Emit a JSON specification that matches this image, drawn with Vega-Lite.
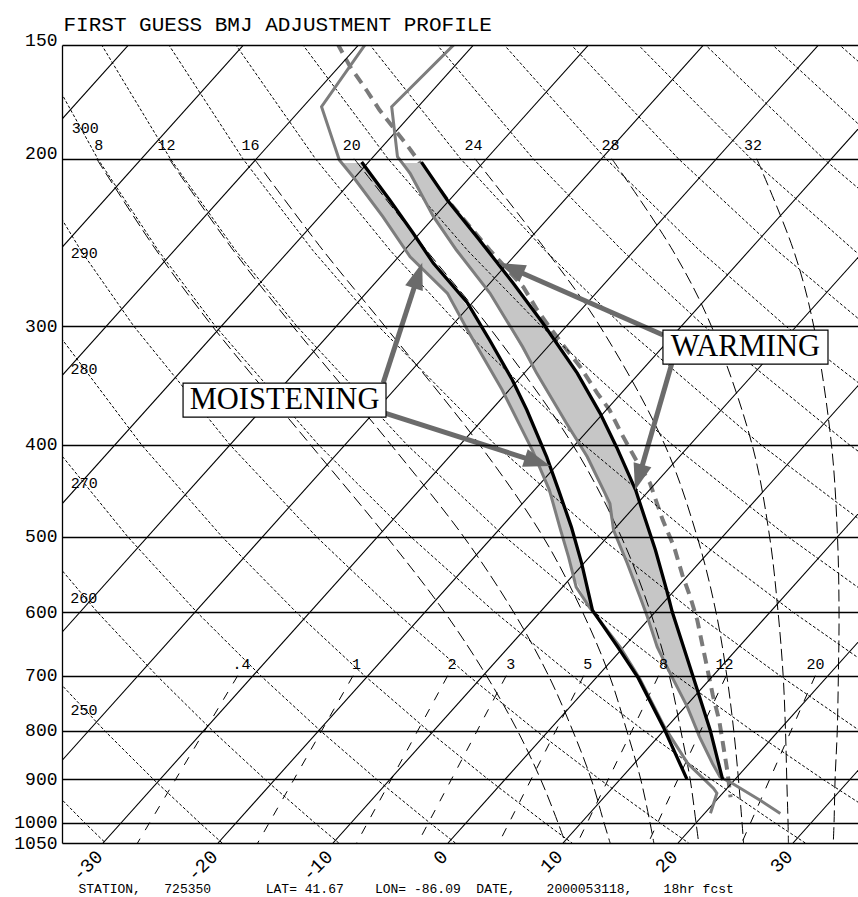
{
"$schema":"https://vega.github.io/schema/vega-lite/v6.json",
"width":796,"height":798,"autosize":"none",
"padding":{"left":62,"top":45,"right":0,"bottom":54},
"background":"white",
"config":{"view":{"stroke":null}},
"datasets":{
"iso":[{"T":-90,"p":1050},{"T":-90,"p":150},{"T":-80,"p":1050},{"T":-80,"p":150},{"T":-70,"p":1050},{"T":-70,"p":150},{"T":-60,"p":1050},{"T":-60,"p":150},{"T":-50,"p":1050},{"T":-50,"p":150},{"T":-40,"p":1050},{"T":-40,"p":150},{"T":-30,"p":1050},{"T":-30,"p":150},{"T":-20,"p":1050},{"T":-20,"p":150},{"T":-10,"p":1050},{"T":-10,"p":150},{"T":0,"p":1050},{"T":0,"p":150},{"T":10,"p":1050},{"T":10,"p":150},{"T":20,"p":1050},{"T":20,"p":150},{"T":30,"p":1050},{"T":30,"p":150}],
"dry":[
{"th":240,"p":1050,"T":-29.78},{"th":240,"p":1000,"T":-33.15},{"th":240,"p":900,"T":-40.27},
{"th":250,"p":1050,"T":-19.64},{"th":250,"p":1000,"T":-23.15},{"th":250,"p":900,"T":-30.57},{"th":250,"p":800,"T":-38.6},{"th":250,"p":700,"T":-47.39},
{"th":260,"p":1050,"T":-9.5},{"th":260,"p":1000,"T":-13.15},{"th":260,"p":900,"T":-20.87},{"th":260,"p":800,"T":-29.22},{"th":260,"p":700,"T":-38.36},{"th":260,"p":600,"T":-48.49},{"th":260,"p":500,"T":-59.91},
{"th":270,"p":1050,"T":0.64},{"th":270,"p":1000,"T":-3.15},{"th":270,"p":900,"T":-11.16},{"th":270,"p":800,"T":-19.84},{"th":270,"p":700,"T":-29.33},{"th":270,"p":600,"T":-39.85},{"th":270,"p":500,"T":-51.71},{"th":270,"p":400,"T":-65.4},
{"th":280,"p":1050,"T":10.78},{"th":280,"p":1000,"T":6.85},{"th":280,"p":900,"T":-1.46},{"th":280,"p":800,"T":-10.46},{"th":280,"p":700,"T":-20.3},{"th":280,"p":600,"T":-31.21},{"th":280,"p":500,"T":-43.51},{"th":280,"p":400,"T":-57.7},{"th":280,"p":300,"T":-74.72},
{"th":290,"p":1050,"T":20.92},{"th":290,"p":1000,"T":16.85},{"th":290,"p":900,"T":8.24},{"th":290,"p":800,"T":-1.08},{"th":290,"p":700,"T":-11.27},{"th":290,"p":600,"T":-22.57},{"th":290,"p":500,"T":-35.3},{"th":290,"p":400,"T":-50.01},{"th":290,"p":300,"T":-67.63},{"th":290,"p":250,"T":-78.07},{"th":290,"p":200,"T":-90.12},
{"th":300,"p":1050,"T":31.07},{"th":300,"p":1000,"T":26.85},{"th":300,"p":900,"T":17.95},{"th":300,"p":800,"T":8.3},{"th":300,"p":700,"T":-2.24},{"th":300,"p":600,"T":-13.93},{"th":300,"p":500,"T":-27.1},{"th":300,"p":400,"T":-42.31},{"th":300,"p":300,"T":-60.54},{"th":300,"p":250,"T":-71.34},{"th":300,"p":200,"T":-83.8},{"th":300,"p":150,"T":-98.78},
{"th":310,"p":1000,"T":36.85},{"th":310,"p":900,"T":27.65},{"th":310,"p":800,"T":17.69},{"th":310,"p":700,"T":6.79},{"th":310,"p":600,"T":-5.29},{"th":310,"p":500,"T":-18.9},{"th":310,"p":400,"T":-34.62},{"th":310,"p":300,"T":-53.46},{"th":310,"p":250,"T":-64.61},{"th":310,"p":200,"T":-77.49},{"th":310,"p":150,"T":-92.97},
{"th":320,"p":900,"T":37.35},{"th":320,"p":800,"T":27.07},{"th":320,"p":700,"T":15.82},{"th":320,"p":600,"T":3.35},{"th":320,"p":500,"T":-10.7},{"th":320,"p":400,"T":-26.93},{"th":320,"p":300,"T":-46.37},{"th":320,"p":250,"T":-57.89},{"th":320,"p":200,"T":-71.18},{"th":320,"p":150,"T":-87.15},
{"th":330,"p":700,"T":24.85},{"th":330,"p":600,"T":11.99},{"th":330,"p":500,"T":-2.5},{"th":330,"p":400,"T":-19.23},{"th":330,"p":300,"T":-39.28},{"th":330,"p":250,"T":-51.16},{"th":330,"p":200,"T":-64.87},{"th":330,"p":150,"T":-81.34},
{"th":340,"p":600,"T":20.63},{"th":340,"p":500,"T":5.7},{"th":340,"p":400,"T":-11.54},{"th":340,"p":300,"T":-32.2},{"th":340,"p":250,"T":-44.43},{"th":340,"p":200,"T":-58.56},{"th":340,"p":150,"T":-75.53},
{"th":350,"p":500,"T":13.91},{"th":350,"p":400,"T":-3.84},{"th":350,"p":300,"T":-25.11},{"th":350,"p":250,"T":-37.7},{"th":350,"p":200,"T":-52.25},{"th":350,"p":150,"T":-69.72},
{"th":360,"p":500,"T":22.11},{"th":360,"p":400,"T":3.85},{"th":360,"p":300,"T":-18.02},{"th":360,"p":250,"T":-30.98},{"th":360,"p":200,"T":-45.94},{"th":360,"p":150,"T":-63.9},
{"th":370,"p":400,"T":11.55},{"th":370,"p":300,"T":-10.93},{"th":370,"p":250,"T":-24.25},{"th":370,"p":200,"T":-39.62},{"th":370,"p":150,"T":-58.09},
{"th":380,"p":400,"T":19.24},{"th":380,"p":300,"T":-3.85},{"th":380,"p":250,"T":-17.52},{"th":380,"p":200,"T":-33.31},{"th":380,"p":150,"T":-52.28},
{"th":390,"p":300,"T":3.24},{"th":390,"p":250,"T":-10.8},{"th":390,"p":200,"T":-27.0},{"th":390,"p":150,"T":-46.47},
{"th":400,"p":250,"T":-4.07},{"th":400,"p":200,"T":-20.69},{"th":400,"p":150,"T":-40.65},
{"th":410,"p":200,"T":-14.38},{"th":410,"p":150,"T":-34.84},
{"th":420,"p":200,"T":-8.07},{"th":420,"p":150,"T":-29.03}],
"moist":[
{"tw":8,"p":1050,"T":10.2},{"tw":8,"p":1000,"T":8},{"tw":8,"p":900,"T":3.1},{"tw":8,"p":800,"T":-2.7},{"tw":8,"p":700,"T":-9.7},{"tw":8,"p":600,"T":-18.3},{"tw":8,"p":500,"T":-29.2},{"tw":8,"p":400,"T":-43.0},{"tw":8,"p":300,"T":-60.8},{"tw":8,"p":250,"T":-71.5},{"tw":8,"p":200,"T":-83.9},
{"tw":12,"p":1050,"T":14.1},{"tw":12,"p":1000,"T":12},{"tw":12,"p":900,"T":7.5},{"tw":12,"p":800,"T":2.1},{"tw":12,"p":700,"T":-4.3},{"tw":12,"p":600,"T":-12.3},{"tw":12,"p":500,"T":-22.5},{"tw":12,"p":400,"T":-36.0},{"tw":12,"p":300,"T":-53.8},{"tw":12,"p":250,"T":-64.8},{"tw":12,"p":200,"T":-77.6},
{"tw":16,"p":1050,"T":17.9},{"tw":16,"p":1000,"T":16},{"tw":16,"p":900,"T":11.8},{"tw":16,"p":800,"T":6.8},{"tw":16,"p":700,"T":1.0},{"tw":16,"p":600,"T":-6.3},{"tw":16,"p":500,"T":-15.6},{"tw":16,"p":400,"T":-28.3},{"tw":16,"p":300,"T":-45.8},{"tw":16,"p":250,"T":-57.0},{"tw":16,"p":200,"T":-70.2},
{"tw":20,"p":1050,"T":21.8},{"tw":20,"p":1000,"T":20},{"tw":20,"p":900,"T":16.1},{"tw":20,"p":800,"T":11.5},{"tw":20,"p":700,"T":6.2},{"tw":20,"p":600,"T":-0.4},{"tw":20,"p":500,"T":-8.8},{"tw":20,"p":400,"T":-20.2},{"tw":20,"p":300,"T":-36.8},{"tw":20,"p":250,"T":-48.0},{"tw":20,"p":200,"T":-61.5},
{"tw":24,"p":1050,"T":25.7},{"tw":24,"p":1000,"T":24},{"tw":24,"p":900,"T":20.3},{"tw":24,"p":800,"T":16.1},{"tw":24,"p":700,"T":11.2},{"tw":24,"p":600,"T":5.3},{"tw":24,"p":500,"T":-2.2},{"tw":24,"p":400,"T":-12.2},{"tw":24,"p":300,"T":-27.1},{"tw":24,"p":250,"T":-37.6},{"tw":24,"p":200,"T":-51.0},
{"tw":28,"p":1050,"T":29.6},{"tw":28,"p":1000,"T":28},{"tw":28,"p":900,"T":24.5},{"tw":28,"p":800,"T":20.6},{"tw":28,"p":700,"T":16.1},{"tw":28,"p":600,"T":10.7},{"tw":28,"p":500,"T":4.1},{"tw":28,"p":400,"T":-4.6},{"tw":28,"p":300,"T":-17.4},{"tw":28,"p":250,"T":-26.6},{"tw":28,"p":200,"T":-39.1},
{"tw":32,"p":1050,"T":33.5},{"tw":32,"p":1000,"T":32},{"tw":32,"p":900,"T":28.7},{"tw":32,"p":800,"T":25.1},{"tw":32,"p":700,"T":20.9},{"tw":32,"p":600,"T":16.0},{"tw":32,"p":500,"T":10.0},{"tw":32,"p":400,"T":2.3},{"tw":32,"p":300,"T":-8.5},{"tw":32,"p":250,"T":-16.1},{"tw":32,"p":200,"T":-26.5}],
"mixr":[{"w":0.4,"p":1050,"T":-27.0},{"w":0.4,"p":700,"T":-31.33},{"w":1,"p":1050,"T":-16.55},{"w":1,"p":700,"T":-21.3},{"w":2,"p":1050,"T":-7.95},{"w":2,"p":700,"T":-13.07},{"w":3,"p":1050,"T":-2.63},{"w":3,"p":700,"T":-7.98},{"w":5,"p":1050,"T":4.42},{"w":5,"p":700,"T":-1.24},{"w":8,"p":1050,"T":11.25},{"w":8,"p":700,"T":5.27},{"w":12,"p":1050,"T":17.41},{"w":12,"p":700,"T":11.15},{"w":20,"p":1050,"T":25.54},{"w":20,"p":700,"T":18.89}],
"snd":[
{"c":"fg_td","p":150.6,"T":-69.5},{"c":"fg_td","p":176.3,"T":-68.4},{"c":"fg_td","p":200.6,"T":-62.7},{"c":"fg_td","p":208.9,"T":-60.2},{"c":"fg_td","p":230.1,"T":-54.5},{"c":"fg_td","p":253.6,"T":-49.0},{"c":"fg_td","p":277.1,"T":-42.9},{"c":"fg_td","p":302.9,"T":-38.3},{"c":"fg_td","p":350.3,"T":-30.6},{"c":"fg_td","p":405.2,"T":-23.3},{"c":"fg_td","p":446.4,"T":-18.7},{"c":"fg_td","p":491.9,"T":-14.6},{"c":"fg_td","p":525.2,"T":-11.8},{"c":"fg_td","p":564.8,"T":-8.8},{"c":"fg_td","p":592.8,"T":-6.1},{"c":"fg_td","p":653.2,"T":-0.3},{"c":"fg_td","p":704.2,"T":3.8},{"c":"fg_td","p":793.0,"T":9.8},{"c":"fg_td","p":865.3,"T":14.6},{"c":"fg_td","p":919.4,"T":18.8},{"c":"fg_td","p":930.6,"T":19.5},{"c":"fg_td","p":962.7,"T":20.2},{"c":"fg_td","p":976.9,"T":20.5},
{"c":"fg_t","p":150.6,"T":-61.7},{"c":"fg_t","p":176.3,"T":-62.3},{"c":"fg_t","p":199.0,"T":-57.9},{"c":"fg_t","p":207.2,"T":-55.5},{"c":"fg_t","p":230.1,"T":-50.1},{"c":"fg_t","p":249.5,"T":-45.5},{"c":"fg_t","p":277.1,"T":-39.2},{"c":"fg_t","p":315.4,"T":-32.2},{"c":"fg_t","p":336.4,"T":-28.9},{"c":"fg_t","p":379.8,"T":-22.4},{"c":"fg_t","p":411.8,"T":-18.0},{"c":"fg_t","p":461.0,"T":-12.4},{"c":"fg_t","p":491.9,"T":-10.0},{"c":"fg_t","p":533.3,"T":-6.2},{"c":"fg_t","p":578.2,"T":-2.5},{"c":"fg_t","p":606.9,"T":-0.3},{"c":"fg_t","p":652.8,"T":2.9},{"c":"fg_t","p":696.2,"T":6.1},{"c":"fg_t","p":755.0,"T":10.2},{"c":"fg_t","p":811.9,"T":13.6},{"c":"fg_t","p":866.0,"T":16.8},{"c":"fg_t","p":894.6,"T":18.5},{"c":"fg_t","p":909.0,"T":20.1},{"c":"fg_t","p":946.5,"T":23.8},{"c":"fg_t","p":977.6,"T":26.6},
{"c":"adj_td","p":201.6,"T":-60.6},{"c":"adj_td","p":221.0,"T":-55.2},{"c":"adj_td","p":239.4,"T":-50.6},{"c":"adj_td","p":257.5,"T":-46.5},{"c":"adj_td","p":283.7,"T":-40.4},{"c":"adj_td","p":310.3,"T":-35.6},{"c":"adj_td","p":341.9,"T":-30.5},{"c":"adj_td","p":367.7,"T":-26.9},{"c":"adj_td","p":412.1,"T":-21.5},{"c":"adj_td","p":446.4,"T":-17.9},{"c":"adj_td","p":488.3,"T":-13.9},{"c":"adj_td","p":532.9,"T":-10.2},{"c":"adj_td","p":597.1,"T":-5.6},{"c":"adj_td","p":653.2,"T":-0.5},{"c":"adj_td","p":704.2,"T":3.7},{"c":"adj_td","p":793.0,"T":9.7},{"c":"adj_td","p":899.5,"T":15.8},
{"c":"adj_t","p":201.6,"T":-55.4},{"c":"adj_t","p":221.0,"T":-50.2},{"c":"adj_t","p":241.8,"T":-44.7},{"c":"adj_t","p":270.3,"T":-38.0},{"c":"adj_t","p":297.8,"T":-32.3},{"c":"adj_t","p":336.2,"T":-25.4},{"c":"adj_t","p":370.4,"T":-20.3},{"c":"adj_t","p":402.3,"T":-16.2},{"c":"adj_t","p":446.4,"T":-11.2},{"c":"adj_t","p":480.1,"T":-8.0},{"c":"adj_t","p":516.3,"T":-4.8},{"c":"adj_t","p":568.9,"T":-0.7},{"c":"adj_t","p":600.0,"T":1.5},{"c":"adj_t","p":702.5,"T":8.4},{"c":"adj_t","p":798.7,"T":14.0},{"c":"adj_t","p":901.8,"T":19.0},
{"c":"parcel","p":151.1,"T":-72.0},{"c":"parcel","p":160.1,"T":-69.0},{"c":"parcel","p":169.3,"T":-65.8},{"c":"parcel","p":177.7,"T":-63.1},{"c":"parcel","p":194.4,"T":-57.7},{"c":"parcel","p":221.0,"T":-50.2},{"c":"parcel","p":249.5,"T":-42.6},{"c":"parcel","p":272.9,"T":-36.8},{"c":"parcel","p":288.5,"T":-33.8},{"c":"parcel","p":300.7,"T":-31.4},{"c":"parcel","p":317.9,"T":-28.1},{"c":"parcel","p":331.3,"T":-25.6},{"c":"parcel","p":352.9,"T":-22.1},{"c":"parcel","p":367.7,"T":-19.7},{"c":"parcel","p":388.8,"T":-16.9},{"c":"parcel","p":415.1,"T":-13.5},{"c":"parcel","p":438.9,"T":-10.5},{"c":"parcel","p":480.1,"T":-6.5},{"c":"parcel","p":512.6,"T":-3.4},{"c":"parcel","p":548.6,"T":-0.5},{"c":"parcel","p":578.6,"T":1.9},{"c":"parcel","p":611.8,"T":4.3},{"c":"parcel","p":650.1,"T":6.7},{"c":"parcel","p":690.6,"T":9.1},{"c":"parcel","p":733.8,"T":11.5},{"c":"parcel","p":779.6,"T":14.0},{"c":"parcel","p":828.3,"T":16.3},{"c":"parcel","p":880.1,"T":18.6},{"c":"parcel","p":939.7,"T":21.0}],
"bands":[
{"b":"t","p":202,"T":-57.0,"T2":-55.3},{"b":"t","p":225,"T":-51.3,"T2":-49.1},{"b":"t","p":250,"T":-45.4,"T2":-42.8},{"b":"t","p":275,"T":-39.7,"T2":-37.0},{"b":"t","p":300,"T":-35.0,"T2":-31.9},{"b":"t","p":350,"T":-26.9,"T2":-23.3},{"b":"t","p":400,"T":-19.6,"T2":-16.5},{"b":"t","p":450,"T":-13.7,"T2":-10.9},{"b":"t","p":500,"T":-9.3,"T2":-6.2},{"b":"t","p":550,"T":-4.8,"T2":-2.2},{"b":"t","p":600,"T":-0.8,"T2":1.5},{"b":"t","p":650,"T":2.7,"T2":4.9},{"b":"t","p":700,"T":6.4,"T2":8.2},{"b":"t","p":750,"T":9.85,"T2":11.2},{"b":"t","p":800,"T":12.9,"T2":14.1},{"b":"t","p":850,"T":15.85,"T2":16.5},{"b":"t","p":900,"T":19.0,"T2":19.0},
{"b":"td","p":202,"T":-62.3,"T2":-60.6},{"b":"td","p":225,"T":-55.9,"T2":-54.2},{"b":"td","p":250,"T":-49.8,"T2":-48.2},{"b":"td","p":275,"T":-43.45,"T2":-42.4},{"b":"td","p":300,"T":-38.8,"T2":-37.5},{"b":"td","p":350,"T":-30.6,"T2":-29.4},{"b":"td","p":400,"T":-23.9,"T2":-23.0},{"b":"td","p":450,"T":-18.4,"T2":-17.6},{"b":"td","p":500,"T":-13.9,"T2":-12.9},{"b":"td","p":550,"T":-9.9,"T2":-9.0},{"b":"td","p":600,"T":-5.5,"T2":-5.4}],
"arrows":[{"T":-39.45,"p":260.5,"T0":-20.9,"p0":306.6},{"T":-11.85,"p":434.1,"T0":-18.1,"p0":325.8},{"T":-46.9,"p":264.7,"T0":-41.5,"p0":344.4},{"T":-21.8,"p":417.4,"T0":-39.0,"p0":370.4}],
"boxes":[{"label":"WARMING","T":-21.3,"p":302.9,"T2":-4.3,"p2":328.9},{"label":"MOISTENING","T":-58.9,"p":344.4,"T2":-38.6,"p2":374.0}],
"boxtext":[{"label":"WARMING","T":-12.8,"p":315.7},{"label":"MOISTENING","T":-48.75,"p":358.9}],
"dlab":[{"label":"300","T":-87.3,"p":185.6},{"label":"290","T":-77.6,"p":251.6},{"label":"280","T":-68.6,"p":332.9},{"label":"270","T":-59.7,"p":438.9},{"label":"260","T":-50.8,"p":579.3},{"label":"250","T":-42.0,"p":761.0}],
"mlab":[{"label":"8","T":-84.8,"p":193.4},{"label":"12","T":-78.9,"p":193.4},{"label":"16","T":-71.6,"p":193.4},{"label":"20","T":-62.8,"p":193.4},{"label":"24","T":-52.2,"p":193.4},{"label":"28","T":-40.3,"p":193.4},{"label":"32","T":-27.9,"p":193.4}],
"wlab":[{"label":".4","T":-31.9,"p":680.6},{"label":"1","T":-21.9,"p":680.6},{"label":"2","T":-13.6,"p":680.6},{"label":"3","T":-8.5,"p":680.6},{"label":"5","T":-1.8,"p":680.6},{"label":"8","T":4.8,"p":680.6},{"label":"12","T":10.1,"p":680.6},{"label":"20","T":18.0,"p":680.6}]
},
"encoding":{
"x":{"field":"xs","type":"quantitative","scale":{"domain":[-33.565,35.652],"nice":false,"zero":false},
 "axis":{"values":[-30,-20,-10,0,10,20,30],"labelExpr":"'' + datum.value","labelAngle":-45,"labelAlign":"right","labelBaseline":"middle","labelPadding":10,"labelOffset":-4,"labelFont":"Liberation Mono","labelFontSize":19,"labelFontWeight":"normal","labelColor":"black","labelFlush":false,"labelOverlap":false,"ticks":false,"domain":false,"grid":false,
 "title":"STATION,\u00a0\u00a0\u00a0725350\u00a0\u00a0\u00a0\u00a0\u00a0\u00a0\u00a0LAT=\u00a041.67\u00a0\u00a0\u00a0\u00a0LON=\u00a0-86.09\u00a0\u00a0DATE,\u00a0\u00a0\u00a0\u00a02000053118,\u00a0\u00a0\u00a0\u00a018hr\u00a0fcst","titleFont":"Liberation Mono","titleFontSize":13,"titleFontWeight":"normal","titleColor":"black","titleX":16,"titleY":49,"titleAlign":"left","titleAnchor":"start","titleBaseline":"alphabetic","titleAngle":0}},
"y":{"field":"p","type":"quantitative","scale":{"type":"log","domain":[151.8,1050],"reverse":true,"nice":false},
 "axis":{"values":[151.8,200,300,400,500,600,700,800,900,1000,1050],"labelExpr":"datum.value < 160 ? '150' : '' + datum.value","zindex":1,"grid":true,"gridColor":"black","gridWidth":1.3,"gridOpacity":1,"ticks":false,"domain":true,"domainColor":"black","domainWidth":1.3,"labelFont":"Liberation Mono","labelFontSize":18,"labelFontWeight":"normal","labelColor":"black","labelPadding":5,"labelBaseline":{"condition":{"test":"datum.value < 250","value":"alphabetic"},"value":"middle"},"labelFlush":false,"labelOverlap":false,"labelBound":false,
 "title":"FIRST GUESS BMJ ADJUSTMENT PROFILE","titleFont":"Liberation Mono","titleFontSize":21,"titleFontWeight":"normal","titleColor":"black","titleAngle":0,"titleX":1,"titleY":-15,"titleAlign":"left","titleAnchor":"start","titleBaseline":"alphabetic"}}
},
"layer":[
{"data":{"name":"snd"},"transform":[{"filter":"datum.c === 'parcel'"},{"calculate":"datum.T + 32.17*log(1050/datum.p)","as":"xs"}],"mark":{"type":"line","stroke":"#7a7a7a","strokeWidth":4,"strokeDash":[11,7],"clip":true},"encoding":{"order":{"field":"p","type":"quantitative"}}},
{"data":{"name":"bands"},"transform":[{"filter":"datum.b === 't'"},{"calculate":"datum.T + 32.17*log(1050/datum.p)","as":"xs"},{"calculate":"datum.T2 + 32.17*log(1050/datum.p)","as":"xs2"}],"mark":{"type":"area","orient":"horizontal","fill":"#c6c6c6","clip":true},"encoding":{"x2":{"field":"xs2"}}},
{"data":{"name":"bands"},"transform":[{"filter":"datum.b === 'td'"},{"calculate":"datum.T + 32.17*log(1050/datum.p)","as":"xs"},{"calculate":"datum.T2 + 32.17*log(1050/datum.p)","as":"xs2"}],"mark":{"type":"area","orient":"horizontal","fill":"#c6c6c6","clip":true},"encoding":{"x2":{"field":"xs2"}}},
{"data":{"name":"dry"},"transform":[{"calculate":"datum.T + 32.17*log(1050/datum.p)","as":"xs"}],"mark":{"type":"line","stroke":"black","strokeWidth":1,"strokeDash":[3,2],"clip":true},"encoding":{"detail":{"field":"th","type":"nominal"},"order":{"field":"p","type":"quantitative"}}},
{"data":{"name":"moist"},"transform":[{"calculate":"datum.T + 32.17*log(1050/datum.p)","as":"xs"}],"mark":{"type":"line","stroke":"black","strokeWidth":1,"strokeDash":[12,5],"interpolate":"catmull-rom","clip":true},"encoding":{"detail":{"field":"tw","type":"nominal"},"order":{"field":"p","type":"quantitative"}}},
{"data":{"name":"mixr"},"transform":[{"calculate":"datum.T + 32.17*log(1050/datum.p)","as":"xs"}],"mark":{"type":"line","stroke":"black","strokeWidth":1,"strokeDash":[9,10],"clip":true},"encoding":{"detail":{"field":"w","type":"nominal"},"order":{"field":"p","type":"quantitative"}}},
{"data":{"name":"iso"},"transform":[{"calculate":"datum.T + 32.17*log(1050/datum.p)","as":"xs"}],"mark":{"type":"line","stroke":"black","strokeWidth":1.1,"clip":true},"encoding":{"detail":{"field":"T","type":"nominal"},"order":{"field":"p","type":"quantitative"}}},
{"data":{"name":"snd"},"transform":[{"filter":"datum.c === 'fg_td' || datum.c === 'fg_t'"},{"calculate":"datum.T + 32.17*log(1050/datum.p)","as":"xs"}],"mark":{"type":"line","stroke":"#7d7d7d","strokeWidth":3,"clip":true},"encoding":{"detail":{"field":"c","type":"nominal"},"order":{"field":"p","type":"quantitative"}}},
{"data":{"name":"snd"},"transform":[{"filter":"datum.c === 'adj_td' || datum.c === 'adj_t'"},{"calculate":"datum.T + 32.17*log(1050/datum.p)","as":"xs"}],"mark":{"type":"line","stroke":"black","strokeWidth":3.3,"clip":true},"encoding":{"detail":{"field":"c","type":"nominal"},"order":{"field":"p","type":"quantitative"}}},
{"data":{"name":"arrows"},"transform":[{"calculate":"datum.T + 32.17*log(1050/datum.p)","as":"xs"},{"calculate":"datum.T0 + 32.17*log(1050/datum.p0)","as":"xs2"}],"mark":{"type":"rule","stroke":"#6b6b6b","strokeWidth":5,"strokeCap":"butt"},"encoding":{"x2":{"field":"xs2"},"y2":{"field":"p0"}}},
{"data":{"name":"arrows"},"transform":[{"calculate":"datum.T + 32.17*log(1050/datum.p)","as":"xs"},{"calculate":"datum.T0 + 32.17*log(1050/datum.p0)","as":"xs0"},{"calculate":"atan2(11.5*(datum.xs - datum.xs0), -412.5*log(datum.p/datum.p0)) * 180 / PI","as":"ang"}],"mark":{"type":"point","shape":"M0,-1.2L0.9,1.4L-0.9,1.4Z","size":420,"filled":true,"fill":"#6b6b6b","strokeWidth":0,"opacity":1},"encoding":{"angle":{"field":"ang","type":"quantitative","scale":null}}},
{"data":{"name":"boxes"},"transform":[{"calculate":"datum.T + 32.17*log(1050/datum.p)","as":"xs"},{"calculate":"datum.T2 + 32.17*log(1050/datum.p2)","as":"xs2"}],"mark":{"type":"rect","fill":"white","stroke":"black","strokeWidth":1.2},"encoding":{"x2":{"field":"xs2"},"y2":{"field":"p2"}}},
{"data":{"name":"boxtext"},"transform":[{"calculate":"datum.T + 32.17*log(1050/datum.p)","as":"xs"}],"mark":{"type":"text","font":"Liberation Serif","fontSize":30.5,"color":"black","align":"center","baseline":"middle"},"encoding":{"text":{"field":"label","type":"nominal"}}},
{"data":{"name":"dlab"},"transform":[{"calculate":"datum.T + 32.17*log(1050/datum.p)","as":"xs"}],"mark":{"type":"text","font":"Liberation Mono","fontSize":15,"color":"black","align":"center","baseline":"middle"},"encoding":{"text":{"field":"label","type":"nominal"}}},
{"data":{"name":"mlab"},"transform":[{"calculate":"datum.T + 32.17*log(1050/datum.p)","as":"xs"}],"mark":{"type":"text","font":"Liberation Mono","fontSize":15,"color":"black","align":"center","baseline":"middle"},"encoding":{"text":{"field":"label","type":"nominal"}}},
{"data":{"name":"wlab"},"transform":[{"calculate":"datum.T + 32.17*log(1050/datum.p)","as":"xs"}],"mark":{"type":"text","font":"Liberation Mono","fontSize":15,"color":"black","align":"center","baseline":"middle"},"encoding":{"text":{"field":"label","type":"nominal"}}}
]
}
